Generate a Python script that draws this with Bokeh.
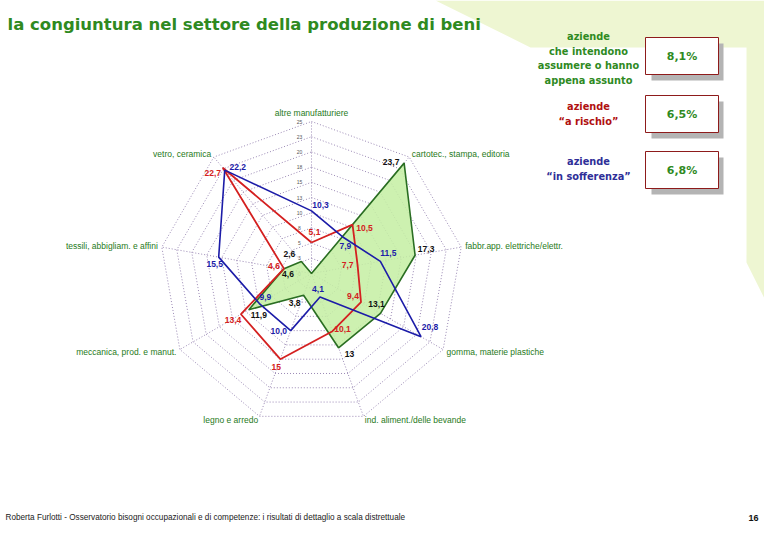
import math
from bokeh.plotting import figure
from bokeh.models import Range1d, ColumnDataSource
from bokeh.embed import file_html
from bokeh.resources import INLINE
from bokeh.core.properties import value

# ---------------- data ----------------
categories = [
    "altre manufatturiere",
    "cartotec., stampa, editoria",
    "fabbr.app. elettriche/elettr.",
    "gomma, materie plastiche",
    "ind. aliment./delle bevande",
    "legno e arredo",
    "meccanica, prod. e manut.",
    "tessili, abbigliam. e affini",
    "vetro, ceramica",
]
assumere = [0.0, 23.7, 17.3, 13.1, 13.0, 3.8, 11.9, 4.6, 2.6]
rischio = [5.1, 10.5, 7.7, 9.4, 10.1, 15.0, 13.4, 4.6, 22.7]
sofferenza = [10.3, 7.9, 11.5, 20.8, 4.1, 10.0, 9.9, 15.5, 22.2]
assumere_labels = ["", "23,7", "17,3", "13,1", "13", "3,8", "11,9", "4,6", "2,6"]
rischio_labels = ["5,1", "10,5", "7,7", "9,4", "10,1", "15", "13,4", "4,6", "22,7"]
sofferenza_labels = ["10,3", "7,9", "11,5", "20,8", "4,1", "10,0", "9,9", "15,5", "22,2"]
tick_values = [0, 2.5, 5, 7.5, 10, 12.5, 15, 17.5, 20, 22.5, 25]
tick_labels = ["0", "3", "5", "8", "10", "13", "15", "18", "20", "23", "25"]
scale_max = 25

summary_titles = [
    ["aziende", "che intendono", "assumere o hanno", "appena assunto"],
    ["aziende", "\u201ca rischio\u201d"],
    ["aziende", "\u201cin sofferenza\u201d"],
]
summary_values = ["8,1%", "6,5%", "6,8%"]

title = "la congiuntura nel settore della produzione di beni"
footer = ("Roberta Furlotti  - Osservatorio bisogni occupazionali e di competenze: "
          "i risultati di dettaglio a scala distrettuale")
page_no = "16"

# ---------------- styles / layout ----------------
W, H = 764, 524
OX, OY = 0, 0  # page position of the plot frame
CX, CY, R = 311, 273, 152
GREEN_T = "#2f8a1f"
GREEN_L = "#2a6e22"
RED = "#d42020"
BLUE = "#1c1ca8"
GRID = "#9a88b4"
LAB = "#1f7a1a"

# label offsets (screen px) for each point label
off_assumere = [(0, 0), (-13, -1), (11, -6), (-4, -9), (11, 6), (-9, 8), (10, 5), (4, 5), (-12, -7)]
off_rischio = [(3, -10), (12, 3), (-10, 0), (-8, -6), (10, -2), (-4, 8), (-8, 6), (-10, -3), (-10, 5)]
off_sofferenza = [(9, -6), (3, 9), (8, -8), (9, -10), (-2, -8), (-12, 0), (6, -7), (-4, 7), (13, -3)]

n = len(categories)
angles = [2 * math.pi * i / n for i in range(n)]


def polar(v, i, extra=0.0):
    r = v / scale_max * R + extra
    return CX + r * math.sin(angles[i]), CY - r * math.cos(angles[i])


p = figure(width=W, height=H, x_range=Range1d(OX, OX + W), y_range=Range1d(OY + H, OY),
           output_backend="svg", toolbar_location=None, min_border=0,
           x_axis_location=None, y_axis_location=None)
p.grid.visible = False
p.outline_line_color = None
p.background_fill_color = "white"
p.border_fill_color = "white"

# background decoration (pale green band top right)
p.patch([435, 780, 780, 746, 746, 530], [0, 0, 330, 262, 47, 47],
        fill_color="#eef6d2", line_color=None)

# rings
for tv in tick_values[1:]:
    xs, ys = [], []
    for i in range(n):
        x, y = polar(tv, i)
        xs.append(x)
        ys.append(y)
    xs.append(xs[0])
    ys.append(ys[0])
    p.line(xs, ys, line_color=GRID, line_dash="1 2", line_width=1)
# spokes
for i in range(n):
    x, y = polar(scale_max, i)
    p.line([CX, x], [CY, y], line_color=GRID, line_dash="1 2", line_width=1)

# tick labels along the top axis
p.text(x=[CX - 12] * len(tick_values), y=[polar(tv, 0)[1] for tv in tick_values],
       text=tick_labels, text_font=value("Liberation Sans"), text_font_size="5px",
       text_color="#555555", text_align="center", text_baseline="middle")


def series_xy(vals):
    pts = [polar(v, i) for i, v in enumerate(vals)]
    return [q[0] for q in pts], [q[1] for q in pts]


gx, gy = series_xy(assumere)
p.patch(gx, gy, fill_color="#c4efa2", fill_alpha=0.85, line_color=GREEN_L, line_width=1.6)
rx, ry = series_xy(rischio)
p.line(rx + rx[:1], ry + ry[:1], line_color=RED, line_width=1.8)
bx, by = series_xy(sofferenza)
p.line(bx + bx[:1], by + by[:1], line_color=BLUE, line_width=1.6)


def point_labels(xs, ys, labels, offs, color):
    src = ColumnDataSource(dict(x=xs, y=ys, t=labels,
                                dx=[o[0] for o in offs], dy=[o[1] for o in offs]))
    p.text(x="x", y="y", text="t", x_offset="dx", y_offset="dy", source=src,
           text_font=value("Liberation Sans"), text_font_size="8.5px", text_font_style="bold",
           text_color=color, text_align="center", text_baseline="middle")


point_labels(gx, gy, assumere_labels, off_assumere, "#111111")
point_labels(rx, ry, rischio_labels, off_rischio, RED)
point_labels(bx, by, sofferenza_labels, off_sofferenza, BLUE)

# category labels
for i, c in enumerate(categories):
    s = math.sin(angles[i])
    x, y = polar(scale_max, i, extra=4)
    if s > 0.1:
        align = "left"
    elif s < -0.1:
        align = "right"
    else:
        align = "center"
        y -= 5
    p.text(x=[x], y=[y], text=[c], text_font=value("Liberation Sans"), text_font_size="8.5px",
           text_color=LAB, text_align=align, text_baseline="middle")

# title
p.text(x=[7], y=[24], text=[title], text_font=value("DejaVu Sans"), text_font_size="16.5px",
       text_font_style="bold", text_color=GREEN_T, text_align="left", text_baseline="middle")

# summary boxes
title_colors = [GREEN_T, "#b01010", "#2e2e98"]
title_tops = [36, 106, 161]
box_tops = [37, 95, 151]
for k in range(3):
    lines = summary_titles[k]
    p.text(x=[588] * len(lines), y=[title_tops[k] + 14.5 * j for j in range(len(lines))],
           text=lines, text_font=value("DejaVu Sans"), text_font_size="9.8px",
           text_font_style="bold", text_color=title_colors[k], text_align="center",
           text_baseline="middle")
    t = box_tops[k]
    p.quad(left=[651], right=[723], top=[t + 6], bottom=[t + 43], fill_color="#b4b4b4",
           line_color=None)
    p.quad(left=[645], right=[718], top=[t], bottom=[t + 37], fill_color="white",
           line_color="#8e1b1b", line_width=1)
    p.text(x=[681.5], y=[t + 18.5], text=[summary_values[k]], text_font=value("DejaVu Sans"),
           text_font_size="11px", text_font_style="bold", text_color=GREEN_T,
           text_align="center", text_baseline="middle")

# footer
p.text(x=[5], y=[517], text=[footer], text_font=value("Liberation Sans"),
       text_font_size="8.2px", text_color="#222222", text_align="left", text_baseline="middle")
p.text(x=[758], y=[517], text=[page_no], text_font=value("Liberation Sans"),
       text_font_size="9px", text_font_style="bold", text_color="#111111",
       text_align="right", text_baseline="middle")

open("out.html", "w").write(file_html(p, INLINE))
